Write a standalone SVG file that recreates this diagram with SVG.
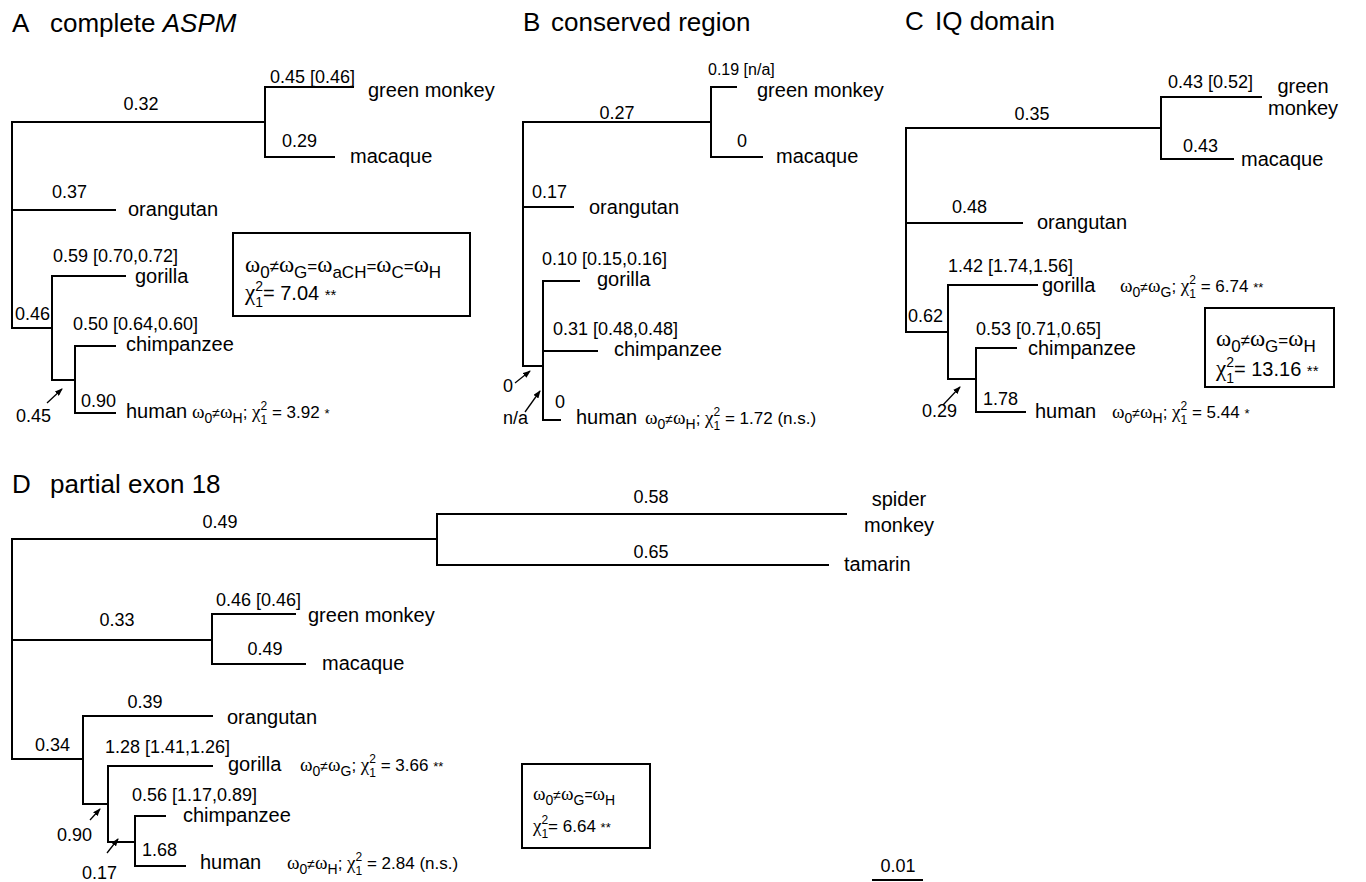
<svg xmlns="http://www.w3.org/2000/svg" width="1366" height="882" viewBox="0 0 1366 882">
<style>
.ln{stroke:#000;stroke-width:2;fill:none;stroke-linecap:square}
.ar{stroke:#000;stroke-width:1.3;fill:none}
.bx{stroke:#000;stroke-width:2;fill:none}
text{font-family:"Liberation Sans",Arial,sans-serif;fill:#000}
.tt{font-size:26px}
.sp{font-size:20px}
.nm{font-size:18px}
.sm{font-size:16px}
.m{text-anchor:middle}
.f{font-size:17px}
.g{font-family:"Liberation Serif","Times New Roman",serif;font-size:19px}
.s{font-size:14px}
.p{font-size:12px}
.a{font-size:13px}
.fb{font-size:20px}
.gb{font-family:"Liberation Serif","Times New Roman",serif;font-size:23px}
.sb{font-size:17px}
.pb{font-size:14px}
.ab{font-size:15px}
</style>
<defs>
<marker id="ah" markerUnits="userSpaceOnUse" markerWidth="8" markerHeight="6" refX="7" refY="3" orient="auto"><path d="M0,0 L8,3 L0,6 z" fill="#000"/></marker>
</defs>
<rect width="1366" height="882" fill="#fff"/>

<!-- Panel A -->
<g id="panelA">
<g id="A-connectors">
<path class="ln" d="M12,122 V328 M12,122 H265 M265,87 V157 M265,87 H353 M265,157 H334 M12,210 H115 M12,328 H52 M52,276 V380 M52,276 H125 M52,380 H75 M75,346 V413 M75,346 H115 M75,413 H115"/>
<line class="ar" x1="47" y1="403" x2="62" y2="389" marker-end="url(#ah)"/>
</g>
<g id="A-title"><text class="tt" x="12" y="32">A</text><text class="tt" x="50" y="32">complete <tspan font-style="italic">ASPM</tspan></text></g>
<g id="A-greenmonkey"><text class="nm" x="270" y="83">0.45 [0.46]</text><text class="sp" x="368" y="97">green monkey</text></g>
<g id="A-macaque"><text class="nm" x="282" y="147">0.29</text><text class="sp" x="350" y="163">macaque</text></g>
<g id="A-cerco"><text class="nm m" x="141" y="110">0.32</text></g>
<g id="A-orangutan"><text class="nm" x="52" y="198">0.37</text><text class="sp" x="128" y="216">orangutan</text></g>
<g id="A-gorilla"><text class="nm" x="53" y="262">0.59 [0.70,0.72]</text><text class="sp" x="135" y="283">gorilla</text></g>
<g id="A-african"><text class="nm" x="15" y="320">0.46</text><text class="nm" x="16" y="422">0.45</text></g>
<g id="A-chimp"><text class="nm" x="73" y="330">0.50 [0.64,0.60]</text><text class="sp" x="126" y="351">chimpanzee</text></g>
<g id="A-human"><text class="nm" x="81" y="407">0.90</text><text class="sp" x="126" y="418">human</text>
<text class="f" x="192" y="418"><tspan class="g">ω</tspan><tspan class="s" dy="5">0</tspan><tspan class="s" dy="-5">≠</tspan><tspan class="g">ω</tspan><tspan class="s" dy="5">H</tspan><tspan dy="-5">; </tspan><tspan class="g">χ</tspan><tspan class="p" dy="-8">2</tspan><tspan class="p" dx="-6.7" dy="14">1</tspan><tspan dy="-6"> = 3.92 </tspan><tspan class="a">*</tspan></text></g>
<g id="A-box"><rect class="bx" x="233" y="233" width="237" height="83"/>
<text class="fb" x="245" y="272"><tspan class="gb">ω</tspan><tspan class="sb" dy="6">0</tspan><tspan class="sb" dy="-6">≠</tspan><tspan class="gb">ω</tspan><tspan class="sb" dy="6">G</tspan><tspan class="sb" dy="-6">=</tspan><tspan class="gb">ω</tspan><tspan class="sb" dy="6">aCH</tspan><tspan class="sb" dy="-6">=</tspan><tspan class="gb">ω</tspan><tspan class="sb" dy="6">C</tspan><tspan class="sb" dy="-6">=</tspan><tspan class="gb">ω</tspan><tspan class="sb" dy="6">H</tspan></text>
<text class="fb" x="245" y="300"><tspan class="gb">χ</tspan><tspan class="pb" dy="-9">2</tspan><tspan class="pb" dx="-7.8" dy="16">1</tspan><tspan dy="-7">= 7.04 </tspan><tspan class="ab">**</tspan></text></g>
</g>

<!-- Panel B -->
<g id="panelB">
<g id="B-connectors">
<path class="ln" d="M523,122 V366 M523,122 H711 M711,87 V157 M711,87 H736 M711,157 H762 M523,207 H573 M523,366 H543 M543,281 V420 M543,281 H579 M543,351 H597 M543,420 H560"/>
<line class="ar" x1="515" y1="383" x2="530" y2="371" marker-end="url(#ah)"/>
<line class="ar" x1="525" y1="412" x2="540" y2="391" marker-end="url(#ah)"/>
</g>
<g id="B-title"><text class="tt" x="523" y="31">B</text><text class="tt" x="551" y="31">conserved region</text></g>
<g id="B-greenmonkey"><text class="sm" x="708" y="75">0.19 [n/a]</text><text class="sp" x="757" y="97">green monkey</text></g>
<g id="B-macaque"><text class="nm" x="737" y="147">0</text><text class="sp" x="776" y="163">macaque</text></g>
<g id="B-cerco"><text class="nm m" x="617" y="119">0.27</text></g>
<g id="B-orangutan"><text class="nm" x="532" y="198">0.17</text><text class="sp" x="589" y="214">orangutan</text></g>
<g id="B-gorilla"><text class="nm" x="542" y="265">0.10 [0.15,0.16]</text><text class="sp" x="597" y="286">gorilla</text></g>
<g id="B-chimp"><text class="nm" x="553" y="335">0.31 [0.48,0.48]</text><text class="sp" x="614" y="356">chimpanzee</text></g>
<g id="B-african"><text class="nm" x="503" y="392">0</text><text class="nm" x="503" y="424">n/a</text></g>
<g id="B-human"><text class="nm" x="555" y="408">0</text><text class="sp" x="576" y="424">human</text>
<text class="f" x="645" y="424"><tspan class="g">ω</tspan><tspan class="s" dy="5">0</tspan><tspan class="s" dy="-5">≠</tspan><tspan class="g">ω</tspan><tspan class="s" dy="5">H</tspan><tspan dy="-5">; </tspan><tspan class="g">χ</tspan><tspan class="p" dy="-8">2</tspan><tspan class="p" dx="-6.7" dy="14">1</tspan><tspan dy="-6"> = 1.72 (n.s.)</tspan></text></g>
</g>

<!-- Panel C -->
<g id="panelC">
<g id="C-connectors">
<path class="ln" d="M906,128 V332 M906,128 H1161 M1161,97 V159 M1161,97 H1261 M1161,159 H1233 M906,223 H1022 M906,332 H948 M948,285 V379 M948,285 H1037 M948,379 H976 M976,348 V412 M976,348 H1016 M976,412 H1025"/>
<line class="ar" x1="943" y1="405" x2="960" y2="387" marker-end="url(#ah)"/>
</g>
<g id="C-title"><text class="tt" x="905" y="30">C</text><text class="tt" x="935" y="30">IQ domain</text></g>
<g id="C-greenmonkey"><text class="nm" x="1168" y="88">0.43 [0.52]</text><text class="sp m" x="1303" y="93">green</text><text class="sp m" x="1303" y="115">monkey</text></g>
<g id="C-macaque"><text class="nm" x="1183" y="152">0.43</text><text class="sp" x="1241" y="166">macaque</text></g>
<g id="C-cerco"><text class="nm m" x="1032" y="120">0.35</text></g>
<g id="C-orangutan"><text class="nm" x="952" y="213">0.48</text><text class="sp" x="1037" y="229">orangutan</text></g>
<g id="C-gorilla"><text class="nm" x="948" y="272">1.42 [1.74,1.56]</text><text class="sp" x="1042" y="292">gorilla</text>
<text class="f" x="1120" y="292"><tspan class="g">ω</tspan><tspan class="s" dy="5">0</tspan><tspan class="s" dy="-5">≠</tspan><tspan class="g">ω</tspan><tspan class="s" dy="5">G</tspan><tspan dy="-5">; </tspan><tspan class="g">χ</tspan><tspan class="p" dy="-8">2</tspan><tspan class="p" dx="-6.7" dy="14">1</tspan><tspan dy="-6"> = 6.74 </tspan><tspan class="a">**</tspan></text></g>
<g id="C-african"><text class="nm" x="908" y="322">0.62</text><text class="nm" x="922" y="417">0.29</text></g>
<g id="C-chimp"><text class="nm" x="976" y="335">0.53 [0.71,0.65]</text><text class="sp" x="1028" y="355">chimpanzee</text></g>
<g id="C-human"><text class="nm" x="983" y="405">1.78</text><text class="sp" x="1035" y="418">human</text>
<text class="f" x="1112" y="418"><tspan class="g">ω</tspan><tspan class="s" dy="5">0</tspan><tspan class="s" dy="-5">≠</tspan><tspan class="g">ω</tspan><tspan class="s" dy="5">H</tspan><tspan dy="-5">; </tspan><tspan class="g">χ</tspan><tspan class="p" dy="-8">2</tspan><tspan class="p" dx="-6.7" dy="14">1</tspan><tspan dy="-6"> = 5.44 </tspan><tspan class="a">*</tspan></text></g>
<g id="C-box"><rect class="bx" x="1205" y="308" width="129" height="79"/>
<text class="fb" x="1216" y="346"><tspan class="gb">ω</tspan><tspan class="sb" dy="6">0</tspan><tspan class="sb" dy="-6">≠</tspan><tspan class="gb">ω</tspan><tspan class="sb" dy="6">G</tspan><tspan class="sb" dy="-6">=</tspan><tspan class="gb">ω</tspan><tspan class="sb" dy="6">H</tspan></text>
<text class="fb" x="1216" y="376"><tspan class="gb">χ</tspan><tspan class="pb" dy="-9">2</tspan><tspan class="pb" dx="-7.8" dy="16">1</tspan><tspan dy="-7">= 13.16 </tspan><tspan class="ab">**</tspan></text></g>
</g>

<!-- Panel D -->
<g id="panelD">
<g id="D-connectors">
<path class="ln" d="M12,539 V759 M12,539 H437 M437,514 V565 M437,514 H846 M437,565 H828 M12,640 H212 M212,614 V664 M212,614 H295 M212,664 H305 M12,759 H83 M83,716 V804 M83,716 H212 M83,804 H108 M108,766 V842 M108,766 H212 M108,842 H135 M135,816 V866 M135,816 H165 M135,866 H185"/>
<line class="ar" x1="90" y1="820" x2="100" y2="809" marker-end="url(#ah)"/>
<line class="ar" x1="107" y1="853" x2="118" y2="839" marker-end="url(#ah)"/>
</g>
<g id="D-title"><text class="tt" x="12" y="493">D</text><text class="tt" x="50" y="493">partial exon 18</text></g>
<g id="D-nwm"><text class="nm m" x="220" y="528">0.49</text></g>
<g id="D-spider"><text class="nm m" x="651" y="503">0.58</text><text class="sp m" x="899" y="506">spider</text><text class="sp m" x="899" y="532">monkey</text></g>
<g id="D-tamarin"><text class="nm m" x="651" y="558">0.65</text><text class="sp" x="844" y="571">tamarin</text></g>
<g id="D-cerco"><text class="nm m" x="117" y="626">0.33</text></g>
<g id="D-greenmonkey"><text class="nm" x="216" y="606">0.46 [0.46]</text><text class="sp" x="308" y="622">green monkey</text></g>
<g id="D-macaque"><text class="nm m" x="265" y="655">0.49</text><text class="sp" x="322" y="670">macaque</text></g>
<g id="D-orangutan"><text class="nm m" x="145" y="708">0.39</text><text class="sp" x="227" y="724">orangutan</text></g>
<g id="D-hominoid"><text class="nm" x="35" y="751">0.34</text><text class="nm" x="57" y="841">0.90</text><text class="nm" x="82" y="879">0.17</text></g>
<g id="D-gorilla"><text class="nm" x="105" y="753">1.28 [1.41,1.26]</text><text class="sp" x="228" y="771">gorilla</text>
<text class="f" x="300" y="771"><tspan class="g">ω</tspan><tspan class="s" dy="5">0</tspan><tspan class="s" dy="-5">≠</tspan><tspan class="g">ω</tspan><tspan class="s" dy="5">G</tspan><tspan dy="-5">; </tspan><tspan class="g">χ</tspan><tspan class="p" dy="-8">2</tspan><tspan class="p" dx="-6.7" dy="14">1</tspan><tspan dy="-6"> = 3.66 </tspan><tspan class="a">**</tspan></text></g>
<g id="D-chimp"><text class="nm" x="132" y="801">0.56 [1.17,0.89]</text><text class="sp" x="183" y="822">chimpanzee</text></g>
<g id="D-human"><text class="nm" x="142" y="856">1.68</text><text class="sp" x="200" y="869">human</text>
<text class="f" x="287" y="869"><tspan class="g">ω</tspan><tspan class="s" dy="5">0</tspan><tspan class="s" dy="-5">≠</tspan><tspan class="g">ω</tspan><tspan class="s" dy="5">H</tspan><tspan dy="-5">; </tspan><tspan class="g">χ</tspan><tspan class="p" dy="-8">2</tspan><tspan class="p" dx="-6.7" dy="14">1</tspan><tspan dy="-6"> = 2.84 (n.s.)</tspan></text></g>
<g id="D-box"><rect class="bx" x="522" y="764" width="128" height="84"/>
<text class="f" x="533" y="800"><tspan class="g">ω</tspan><tspan class="s" dy="5">0</tspan><tspan class="s" dy="-5">≠</tspan><tspan class="g">ω</tspan><tspan class="s" dy="5">G</tspan><tspan class="s" dy="-5">=</tspan><tspan class="g">ω</tspan><tspan class="s" dy="5">H</tspan></text>
<text class="f" x="533" y="832"><tspan class="g">χ</tspan><tspan class="p" dy="-8">2</tspan><tspan class="p" dx="-6.7" dy="14">1</tspan><tspan dy="-6">= 6.64 </tspan><tspan class="a">**</tspan></text></g>
<g id="D-scale"><text class="nm m" x="898" y="872">0.01</text><path class="ln" d="M873,880 H922"/></g>
</g>
</svg>
